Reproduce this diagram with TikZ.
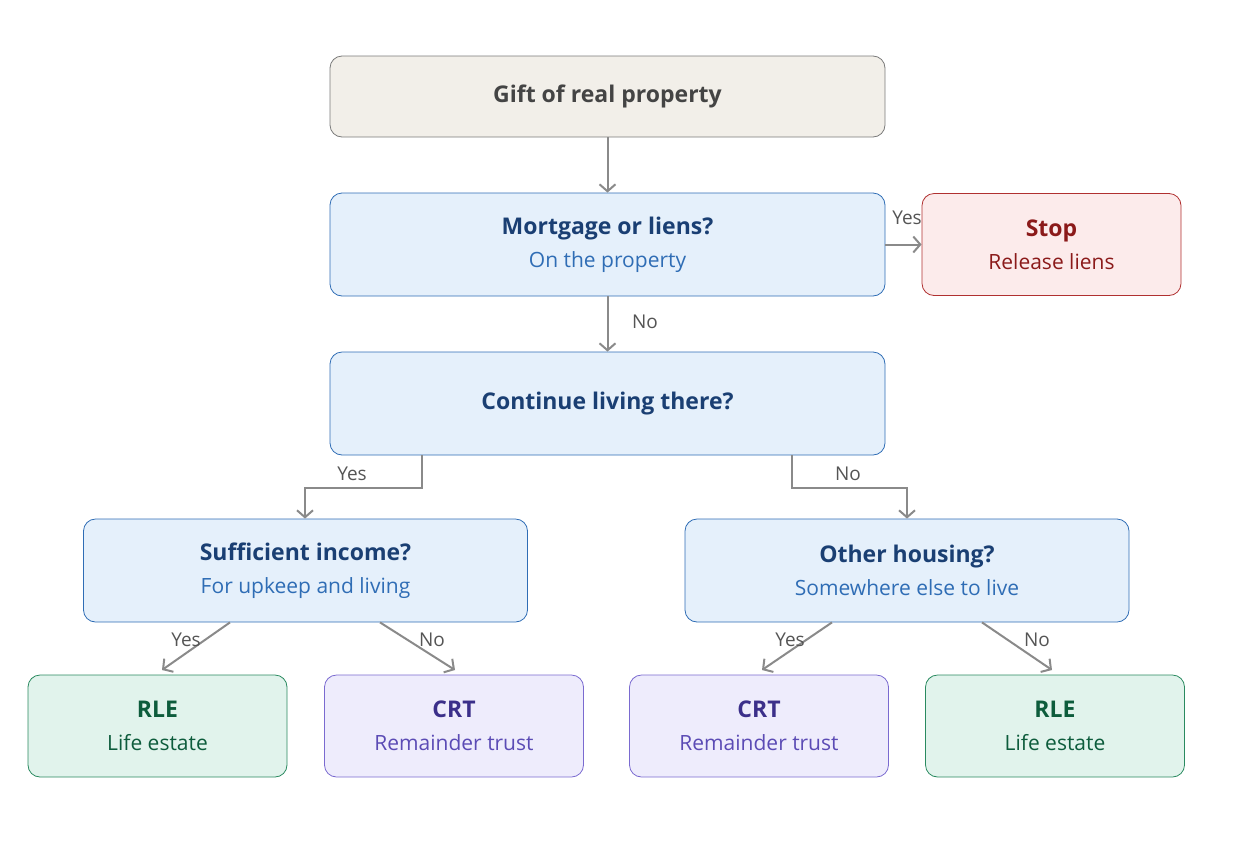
\documentclass[tikz,border=0pt]{standalone}
\usepackage{fontspec}
\setmainfont{Open Sans}
\usetikzlibrary{arrows.meta}
\definecolor{gfill}{HTML}{F2EFE9}\definecolor{gdraw}{HTML}{7A7A7A}\definecolor{gtext}{HTML}{444444}
\definecolor{bfill}{HTML}{E5F0FB}\definecolor{bdraw}{HTML}{2F6DB5}\definecolor{btext}{HTML}{1A3F73}\definecolor{bsub}{HTML}{2F6DB5}
\definecolor{rfill}{HTML}{FCEBEB}\definecolor{rdraw}{HTML}{B03030}\definecolor{rtext}{HTML}{8B1A1A}
\definecolor{efill}{HTML}{E1F3EC}\definecolor{edraw}{HTML}{2A8A60}\definecolor{etext}{HTML}{0D5C3C}
\definecolor{pfill}{HTML}{EEECFC}\definecolor{pdraw}{HTML}{7A6AD0}\definecolor{ptext}{HTML}{3B2F8A}\definecolor{psub}{HTML}{5B4BB5}
\definecolor{arr}{HTML}{8A8A8A}\definecolor{lab}{HTML}{555555}
\tikzset{
 box/.style={rounded corners=12pt,line width=0.8pt,align=center,inner sep=0pt,font=\fontsize{21}{33}\selectfont},
 wide/.style={box,minimum width=555pt,minimum height=103pt},
 mid/.style={box,minimum width=444pt,minimum height=103pt},
 small/.style={box,minimum width=259pt,minimum height=102pt},
 blue/.style={fill=bfill,draw=bdraw,text=btext},
 red/.style={fill=rfill,draw=rdraw,text=rtext},
 green/.style={fill=efill,draw=edraw,text=etext},
 purple/.style={fill=pfill,draw=pdraw,text=ptext},
 conn/.style={draw=arr,line width=2pt,-{Straight Barb[length=7pt,width=16pt,line width=2pt]}},
 lbl/.style={text=lab,font=\fontsize{19}{22}\selectfont}
}
\newcommand{\ttl}[1]{{\fontsize{23}{33}\selectfont\bfseries #1}}
\newcommand{\sbt}[1]{#1}
\begin{document}
\begin{tikzpicture}[x=1pt,y=-1pt]
\useasboundingbox (0,0) rectangle (1259,852);
\node[box,minimum width=555pt,minimum height=81pt,fill=gfill,draw=gdraw,text=gtext] (gift) at (607.5,96.5) {\ttl{Gift of real property}};
\node[wide,blue] (mort) at (607.5,244.5) {\ttl{Mortgage or liens?}\\\sbt{\color{bsub}On the property}};
\node[small,red] (stop) at (1051.5,244.5) {\ttl{Stop}\\\sbt{Release liens}};
\node[wide,blue] (cont) at (607.5,403.5) {\ttl{Continue living there?}};
\node[mid,blue] (suff) at (305.5,570.5) {\ttl{Sufficient income?}\\\sbt{\color{bsub}For upkeep and living}};
\node[mid,blue] (oth) at (907,570.5) {\ttl{Other housing?}\\\sbt{\color{bsub}Somewhere else to live}};
\node[small,green] (rle1) at (157.5,726) {\ttl{RLE}\\\sbt{Life estate}};
\node[small,purple] (crt1) at (454,726) {\ttl{CRT}\\\sbt{\color{psub}Remainder trust}};
\node[small,purple] (crt2) at (759,726) {\ttl{CRT}\\\sbt{\color{psub}Remainder trust}};
\node[small,green] (rle2) at (1055,726) {\ttl{RLE}\\\sbt{Life estate}};
\draw[conn] (gift) -- (mort);
\draw[conn] (mort) -- (stop);
\node[lbl] at (907,218) {Yes};
\draw[conn] (mort) -- (cont);
\node[lbl] at (645,322) {No};
\draw[conn] (cont.south -| 422,0) |- (305,488) -- (suff.north -| 305,0);
\node[lbl] at (352,474) {Yes};
\draw[conn] (cont.south -| 792,0) |- (907,488) -- (oth.north);
\node[lbl] at (848,474) {No};
\draw[conn] (suff.south -| 230,0) -- (162,670);
\node[lbl] at (186,640) {Yes};
\draw[conn] (suff.south -| 380,0) -- (455,670);
\node[lbl] at (432,640) {No};
\draw[conn] (oth.south -| 832,0) -- (762,670);
\node[lbl] at (790,640) {Yes};
\draw[conn] (oth.south -| 982,0) -- (1052,670);
\node[lbl] at (1037,640) {No};
\end{tikzpicture}
\end{document}
